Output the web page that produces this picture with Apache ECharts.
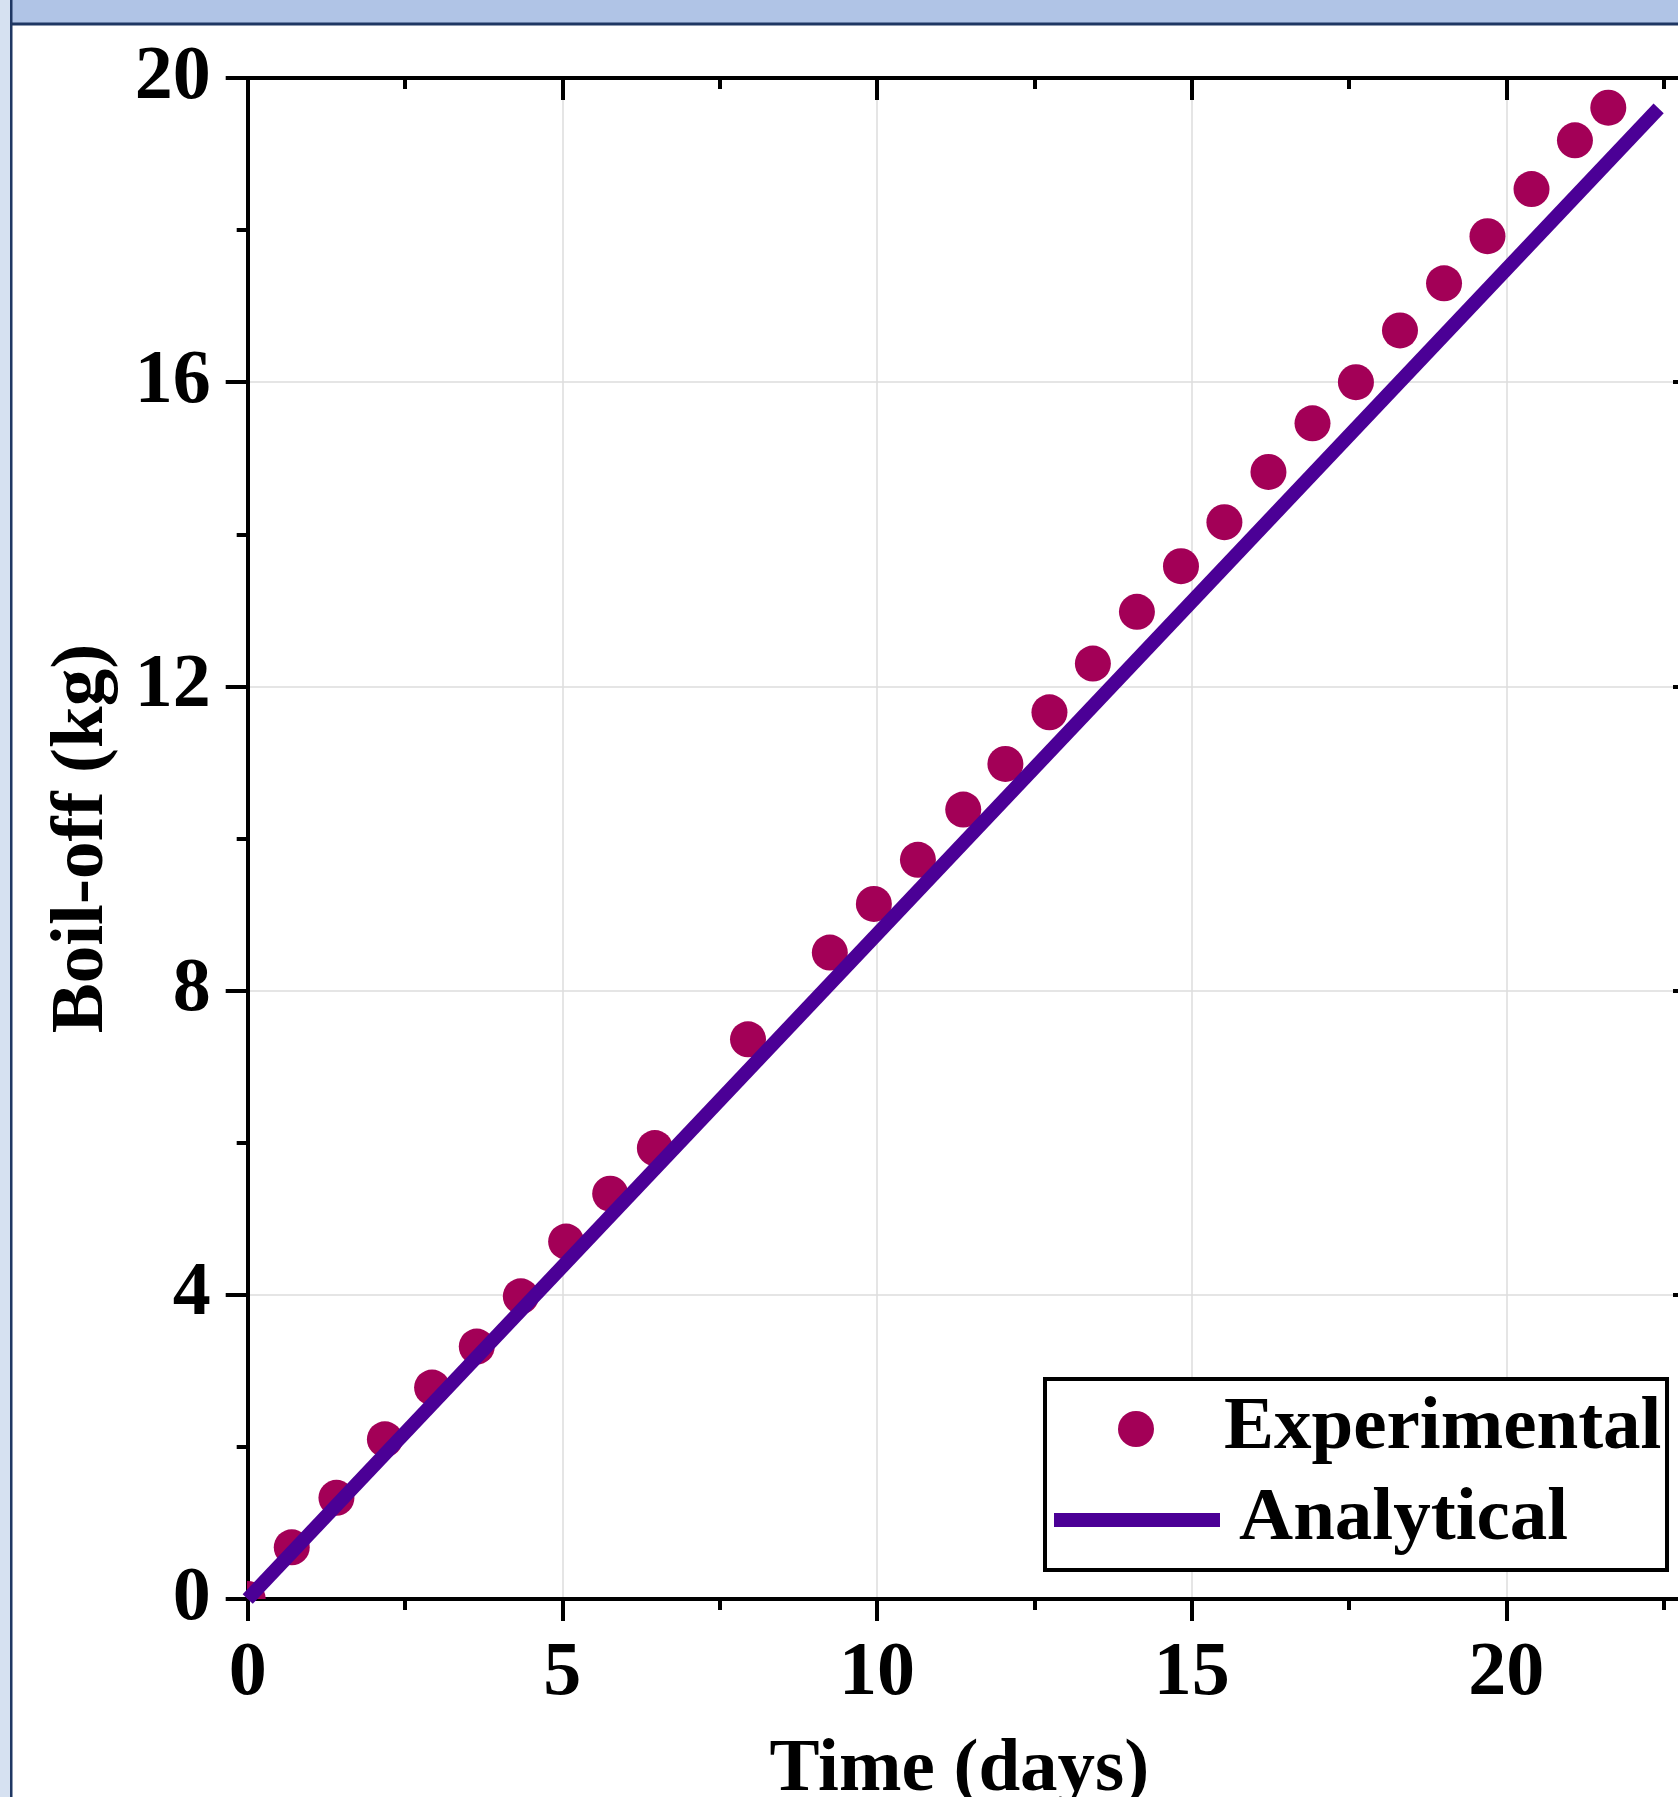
<!DOCTYPE html>
<html>
<head>
<meta charset="utf-8">
<script src="https://cdn.jsdelivr.net/npm/echarts@6/dist/echarts.min.js"></script>
<style>
html,body{margin:0;padding:0;background:#fff;overflow:hidden;}
#chart{width:1678px;height:1797px;}
</style>
</head>
<body>
<div id="chart"></div>
<script>
// ---- data ----
const expDays = [0, 0.70, 1.41, 2.18, 2.93, 3.64, 4.34, 5.06, 5.76, 6.47, 7.95, 9.25, 9.95, 10.65, 11.37, 12.04, 12.74, 13.43, 14.13, 14.83, 15.52, 16.22, 16.92, 17.61, 18.31, 19.01, 19.70, 20.40, 21.09, 21.62];
const expKg   = [0, 0.68, 1.33, 2.10, 2.78, 3.32, 3.98, 4.70, 5.33, 5.93, 7.36, 8.50, 9.14, 9.72, 10.38, 10.98, 11.66, 12.30, 12.98, 13.58, 14.16, 14.82, 15.46, 16.00, 16.68, 17.30, 17.92, 18.54, 19.18, 19.61];
const anaDays = [0, 22.42];
const anaKg   = [0, 19.60];
const seriesNames = ['Experimental', 'Analytical'];
const xTitle = 'Time (days)';
const yTitle = 'Boil-off (kg)';
const xRange = [0, 25, 5];
const yRange = [0, 20, 4];

// ---- styling ----
const FONT = "'Liberation Serif', 'Times New Roman', serif";
const expColor = '#A30057';
const anaColor = '#4B0096';
const black = '#000';

const expData = expDays.map((d, i) => [d, expKg[i]]);
const anaData = anaDays.map((d, i) => [d, anaKg[i]]);

function axisBase(isX, primary, pos) {
  const r = isX ? xRange : yRange;
  return {
    type: 'value', position: pos, min: r[0], max: r[1], interval: r[2],
    axisLine: { show: true, onZero: false, lineStyle: { color: black, width: 4 } },
    axisTick: { show: true, inside: !primary, length: 22, lineStyle: { color: black, width: 4 } },
    minorTick: { show: true, splitNumber: 2, length: 11, lineStyle: { color: black, width: 4 } },
    splitLine: { show: primary, lineStyle: { color: '#dcdcdc', width: 1.5 } },
    axisLabel: { show: primary, fontFamily: FONT, fontWeight: 'bold', fontSize: 76, color: black, margin: 37 }
  };
}

const chart = echarts.init(document.getElementById('chart'), null, { renderer: 'canvas' });

const xMain = Object.assign(axisBase(true, true, 'bottom'), {
  name: xTitle, nameLocation: 'middle', nameGap: 134,
  nameTextStyle: { fontFamily: FONT, fontWeight: 'bold', fontSize: 75, color: black, padding: [0, 150, 0, 0] }
});
const xTop = axisBase(true, false, 'top');
const yMain = Object.assign(axisBase(false, true, 'left'), {
  name: yTitle, nameLocation: 'middle', nameGap: 128,
  nameTextStyle: { fontFamily: FONT, fontWeight: 'bold', fontSize: 75, color: black }
});
const yRight = Object.assign(axisBase(false, false, 'right'), { offset: -126 });

const legendText = { fontFamily: FONT, fontWeight: 'bold', fontSize: 75, lineHeight: 76, color: black };

chart.setOption({
  animation: false,
  backgroundColor: '#fff',
  grid: { left: 247.7, top: 78, width: 1573.3, height: 1521, containLabel: false, outerBoundsMode: 'none' },
  xAxis: [xMain, xTop],
  yAxis: [yMain, yRight],
  legend: [
    {
      data: [{ name: seriesNames[0], icon: 'circle' }],
      left: 1118, top: 1391, padding: 0, itemWidth: 166, itemHeight: 36,
      selectedMode: false, textStyle: legendText, z: 10
    },
    {
      data: [{ name: seriesNames[1], icon: 'rect' }],
      left: 1054, top: 1482, padding: 0, itemWidth: 166, itemHeight: 14,
      selectedMode: false, textStyle: Object.assign({}, legendText, { padding: [0, 0, 0, 14] }), z: 10
    }
  ],
  graphic: {
    z: 8,
    elements: [
      { type: 'rect', shape: { x: 1045, y: 1379, width: 622, height: 191 },
        style: { fill: '#fff', stroke: black, lineWidth: 4 }, z: 8 },
      { type: 'rect', shape: { x: 0, y: 0, width: 1678, height: 23 }, style: { fill: '#B0C4E6' }, z: 8 },
      { type: 'rect', shape: { x: 10, y: 22.5, width: 1668, height: 3 }, style: { fill: '#1F3763' }, z: 8 },
      { type: 'rect', shape: { x: 0, y: 0, width: 10, height: 1797 }, style: { fill: '#D6E1F1' }, z: 8 },
      { type: 'rect', shape: { x: 10, y: 0, width: 2.5, height: 1797 }, style: { fill: '#1F3763' }, z: 8 }
    ]
  },
  series: [
    {
      name: seriesNames[0],
      type: 'custom',
      clip: true,
      z: 2,
      itemStyle: { color: expColor },
      encode: { x: 0, y: 1 },
      data: expData,
      renderItem: function (params, api) {
        const p = api.coord([api.value(0), api.value(1)]);
        return { type: 'circle', shape: { cx: p[0], cy: p[1], r: 18 }, style: { fill: expColor } };
      }
    },
    {
      name: seriesNames[1],
      type: 'line',
      z: 3,
      symbol: 'none',
      clip: true,
      itemStyle: { color: anaColor },
      lineStyle: { color: anaColor, width: 14, cap: 'butt' },
      data: anaData
    }
  ]
});
</script>
</body>
</html>
